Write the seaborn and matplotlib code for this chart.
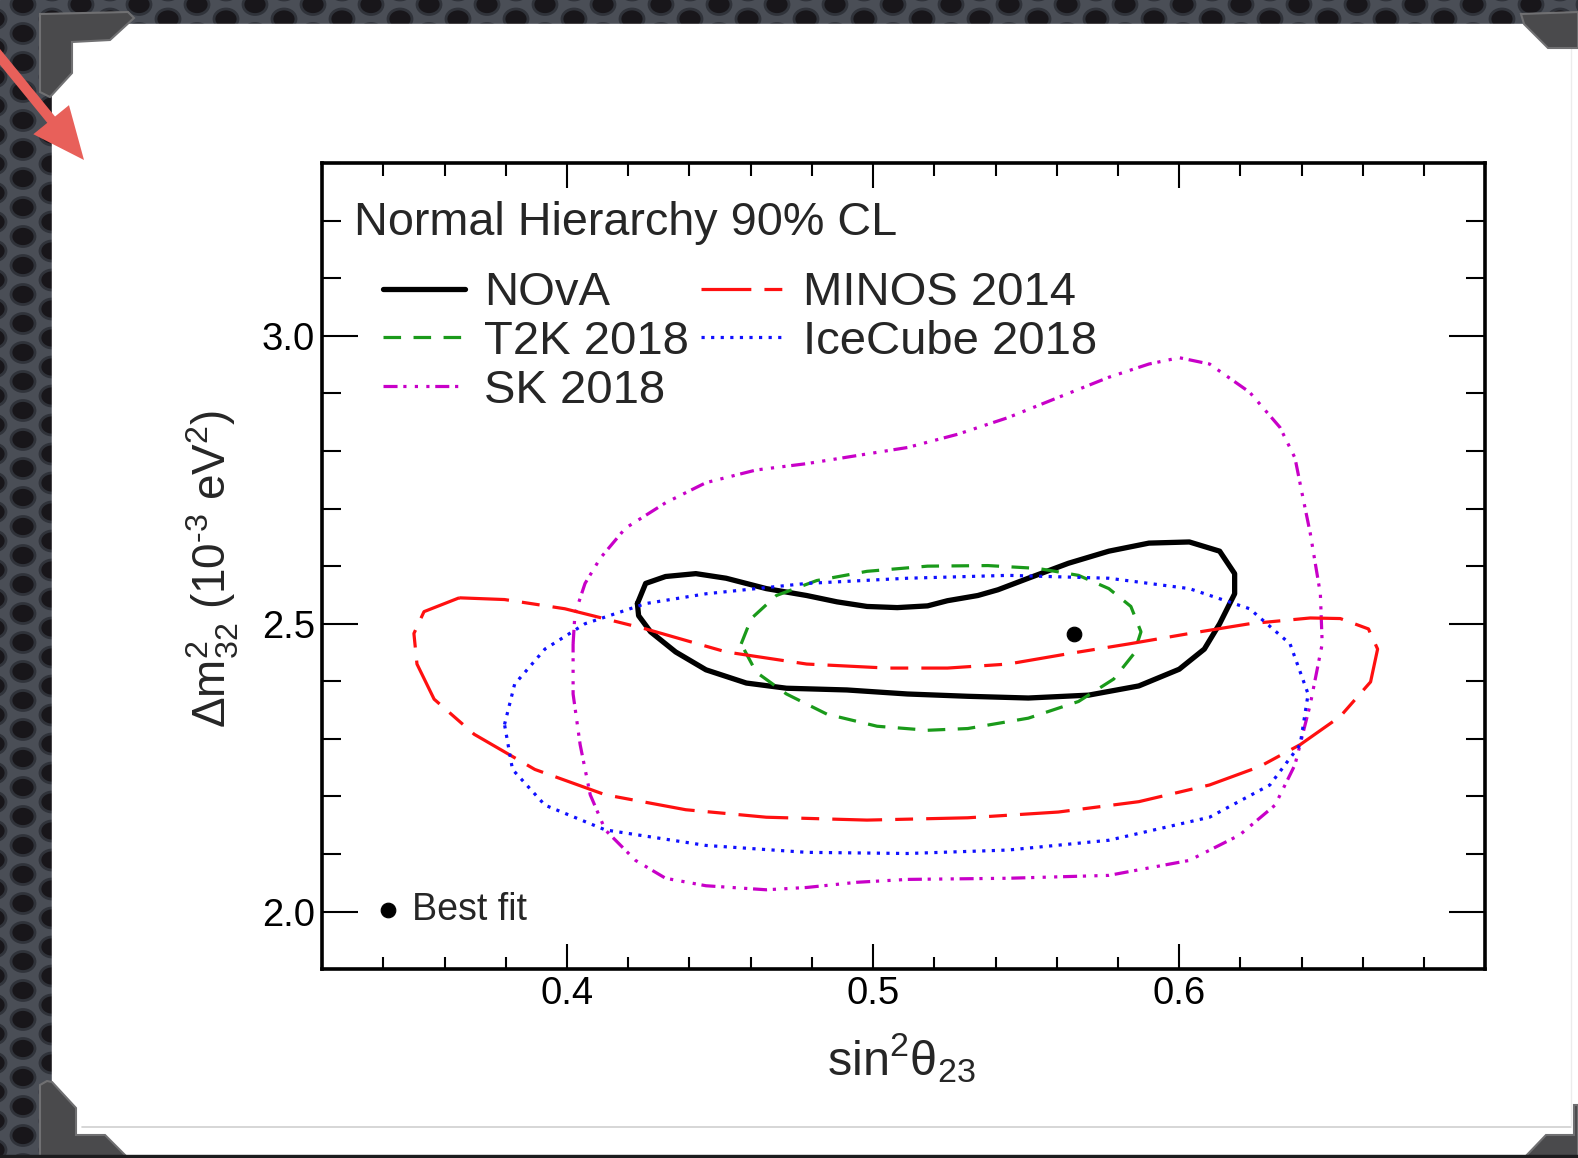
import numpy as np
import pandas as pd
import matplotlib
matplotlib.use("Agg")
import matplotlib.pyplot as plt
from matplotlib.patches import Ellipse, Rectangle, Polygon
from matplotlib.ticker import MultipleLocator, FixedLocator, FormatStrFormatter
import seaborn as sns

# ---------------------------------------------------------------- data
# 90% CL contours in (sin^2 theta_23, dm^2_32 [1e-3 eV^2])
nova_x = [0.4230, 0.4257, 0.4322, 0.4421, 0.4520, 0.4651, 0.4783, 0.4882, 0.4980, 0.5079,
          0.5178, 0.5243, 0.5342, 0.5408, 0.5507, 0.5638, 0.5770, 0.5901, 0.6033, 0.6132,
          0.6181, 0.6181, 0.6132, 0.6082, 0.6000, 0.5868, 0.5704, 0.5507, 0.5309, 0.5112,
          0.4914, 0.4717, 0.4586, 0.4454, 0.4355, 0.4273, 0.4234]
nova_y = [2.535, 2.570, 2.582, 2.587, 2.579, 2.561, 2.549, 2.538, 2.530, 2.528,
          2.531, 2.540, 2.549, 2.559, 2.579, 2.605, 2.626, 2.640, 2.642, 2.626,
          2.587, 2.552, 2.500, 2.456, 2.421, 2.392, 2.376, 2.371, 2.374, 2.378,
          2.385, 2.388, 2.397, 2.420, 2.451, 2.486, 2.514]

t2k_x = [0.4569, 0.4602, 0.4684, 0.4816, 0.4980, 0.5178, 0.5375, 0.5539, 0.5671, 0.5770,
         0.5842, 0.5875, 0.5852, 0.5786, 0.5671, 0.5507, 0.5309, 0.5178, 0.5013, 0.4849,
         0.4717, 0.4618]
t2k_y = [2.465, 2.509, 2.549, 2.575, 2.591, 2.600, 2.601, 2.596, 2.584, 2.561,
         2.530, 2.486, 2.448, 2.404, 2.365, 2.336, 2.318, 2.315, 2.322, 2.343,
         2.378, 2.416]

minos_x = [0.3648, 0.3796, 0.3993, 0.4257, 0.4520, 0.4783, 0.5046, 0.5243, 0.5441, 0.5638,
           0.5836, 0.6033, 0.6230, 0.6428, 0.6526, 0.6618, 0.6648, 0.6625, 0.6526, 0.6395,
           0.6263, 0.6099, 0.5868, 0.5605, 0.5309, 0.4980, 0.4651, 0.4388, 0.4125, 0.3895,
           0.3697, 0.3566, 0.3510, 0.3500, 0.3533]
minos_y = [2.545, 2.542, 2.526, 2.491, 2.451, 2.430, 2.423, 2.423, 2.430, 2.448,
           2.465, 2.483, 2.500, 2.510, 2.509, 2.491, 2.456, 2.399, 2.339, 2.290,
           2.252, 2.220, 2.191, 2.173, 2.163, 2.159, 2.164, 2.177, 2.203, 2.247,
           2.308, 2.369, 2.430, 2.483, 2.521]

icecube_x = [0.3796, 0.3829, 0.3928, 0.4059, 0.4257, 0.4454, 0.4783, 0.5112, 0.5441, 0.5770,
             0.6033, 0.6230, 0.6362, 0.6421, 0.6395, 0.6296, 0.6099, 0.5770, 0.5441, 0.5112,
             0.4783, 0.4454, 0.4125, 0.3928, 0.3822]
icecube_y = [2.325, 2.395, 2.456, 2.500, 2.535, 2.552, 2.570, 2.579, 2.584, 2.579,
             2.561, 2.526, 2.465, 2.378, 2.290, 2.220, 2.164, 2.124, 2.107, 2.101,
             2.103, 2.115, 2.142, 2.185, 2.247]

sk_x = [0.4020, 0.4026, 0.4059, 0.4109, 0.4191, 0.4322, 0.4454, 0.4618, 0.4783, 0.4947,
        0.5112, 0.5276, 0.5441, 0.5605, 0.5770, 0.5901, 0.6000, 0.6099, 0.6230, 0.6329,
        0.6378, 0.6401, 0.6428, 0.6461, 0.6467, 0.6428, 0.6378, 0.6313, 0.6197, 0.6033,
        0.5770, 0.5441, 0.5112, 0.4947, 0.4783, 0.4651, 0.4454, 0.4322, 0.4224, 0.4125,
        0.4076, 0.4043, 0.4020]
sk_y = [2.465, 2.517, 2.570, 2.614, 2.666, 2.710, 2.745, 2.767, 2.778, 2.792,
        2.806, 2.829, 2.858, 2.893, 2.928, 2.951, 2.962, 2.951, 2.902, 2.841,
        2.788, 2.727, 2.657, 2.552, 2.465, 2.360, 2.255, 2.185, 2.133, 2.089,
        2.063, 2.058, 2.056, 2.051, 2.042, 2.038, 2.045, 2.058, 2.089, 2.142,
        2.203, 2.290, 2.378]

best_fit_x = [0.5655]
best_fit_y = [2.4825]

labels = ["NOvA", "T2K 2018", "SK 2018", "MINOS 2014", "IceCube 2018"]
x_ticks = [0.4, 0.5, 0.6]
y_ticks = [2.0, 2.5, 3.0]

# ---------------------------------------------------------------- style
sns.set_style("ticks")
plt.rcParams["font.family"] = ["Liberation Sans", "DejaVu Sans"]
plt.rcParams["mathtext.fontset"] = "custom"
plt.rcParams["mathtext.rm"] = "Liberation Sans"
plt.rcParams["mathtext.it"] = "Liberation Sans"
plt.rcParams["mathtext.bf"] = "Liberation Sans:bold"
plt.rcParams["mathtext.sf"] = "Liberation Sans"

W, H = 1578, 1158
fig = plt.figure(figsize=(W / 100, H / 100), dpi=100)

# ---------------------------------------------------------------- frame backdrop (pixel coordinates)
bg = fig.add_axes([0, 0, 1, 1], zorder=0)
bg.set_xlim(0, W)
bg.set_ylim(H, 0)
bg.axis("off")
bg.add_patch(Rectangle((0, 0), W, H, color="#4a4e56", zorder=0))
for ci, cx in enumerate(np.arange(-6, W + 30, 29.0)):
    off = 14.5 if ci % 2 else 0.0
    for cy in np.arange(-10 + off, H + 30, 29.0):
        bg.add_patch(Ellipse((cx, cy), 24, 20, facecolor="#18161a",
                             edgecolor="#30333a", lw=2.0, zorder=1))
bg.add_patch(Rectangle((52, 24), W - 52, 1131, color="white", zorder=2))
bg.plot([82, 1571], [1127, 1127], color="#cfcfcf", lw=1.2, zorder=3)
bg.plot([1571, 1571], [48, 1127], color="#ececec", lw=1.0, zorder=3)

corner_kw = dict(facecolor="#4a4a4c", edgecolor="#707072", lw=1.5, zorder=4)
bg.add_patch(Polygon([(40, 14), (128, 12), (134, 18), (110, 40), (72, 42), (72, 73),
                      (50, 97), (40, 92)], closed=True, **corner_kw))
bg.add_patch(Polygon([(40, 1085), (47, 1081), (52, 1082), (76, 1108), (76, 1135),
                      (105, 1135), (128, 1158), (40, 1158)], closed=True, **corner_kw))
bg.add_patch(Polygon([(1521, 14), (1578, 12), (1578, 48), (1548, 48), (1524, 24)],
                     closed=True, **corner_kw))
bg.add_patch(Polygon([(1524, 1158), (1546, 1135), (1574, 1135), (1574, 1105),
                      (1578, 1105), (1578, 1158)], closed=True, **corner_kw))
bg.add_patch(Rectangle((0, 1155), W, 4, color="#1c1c1e", zorder=4))
bg.arrow(-4, 52, 88, 108, width=10, head_width=46, head_length=52,
         length_includes_head=True, color="#e8605a", lw=0, zorder=5)

# ---------------------------------------------------------------- main plot
ax = fig.add_axes([0.2041, 0.1630, 0.7372, 0.6962], zorder=2)
ax.set_facecolor("white")

def closed(xs, ys):
    return pd.DataFrame({"x": list(xs) + [xs[0]], "y": list(ys) + [ys[0]]})

series = [
    (nova_x, nova_y, labels[0], dict(color="black", lw=3.8, linestyle="-")),
    (t2k_x, t2k_y, labels[1], dict(color="#1a9a1a", lw=2.3, linestyle=(0, (5.5, 3.9)))),
    (sk_x, sk_y, labels[2], dict(color="#c800c8", lw=2.3,
                                  linestyle=(0, (4.4, 1.8, 1.0, 2.6, 1.0, 2.6, 1.0, 1.8)))),
    (minos_x, minos_y, labels[3], dict(color="#ff1010", lw=2.3,
                                       linestyle=(0, (15.6, 4.1, 5.6, 4.1)))),
    (icecube_x, icecube_y, labels[4], dict(color="#1010ff", lw=2.3, linestyle=(0, (1.0, 2.0)))),
]
handles = []
for xs, ys, lab, kw in series:
    df = closed(xs, ys)
    sns.lineplot(data=df, x="x", y="y", sort=False, estimator=None, ax=ax,
                 label=lab, **kw)
    handles.append(ax.lines[-1])

sns.scatterplot(x=best_fit_x, y=best_fit_y, color="black", s=110, ax=ax,
                edgecolor="black", zorder=6, legend=False)
bf_handle = ax.collections[-1]

ax.set_xlim(0.32, 0.70)
ax.set_ylim(1.90, 3.30)
ax.xaxis.set_major_locator(FixedLocator(x_ticks))
ax.xaxis.set_minor_locator(MultipleLocator(0.02))
ax.yaxis.set_major_locator(FixedLocator(y_ticks))
ax.yaxis.set_minor_locator(MultipleLocator(0.1))
ax.xaxis.set_major_formatter(FormatStrFormatter("%.1f"))
ax.yaxis.set_major_formatter(FormatStrFormatter("%.1f"))
for s in ax.spines.values():
    s.set_linewidth(2.6)
    s.set_color("black")
ax.tick_params(which="both", direction="in", top=True, right=True, width=1.5,
               color="black", labelsize=27.5, labelcolor="black")
ax.tick_params(axis="x", which="major", length=18, pad=5)
ax.tick_params(axis="x", which="minor", length=9)
ax.tick_params(axis="y", which="major", length=26, pad=5)
ax.tick_params(axis="y", which="minor", length=13.5)

ax.set_xlabel("sin$^{2}$θ$_{23}$", fontsize=35, va="center", ha="center")
ax.xaxis.set_label_coords(0.498, -0.111)
ax.set_ylabel("Δm$^{2}_{32}$ (10$^{\u2010 3}$ eV$^{2}$)", fontsize=33, va="center", ha="center")
ax.yaxis.set_label_coords(-0.094, 0.497)

ax.text(0.0277, 0.911, "Normal Hierarchy 90% CL", transform=ax.transAxes,
        fontsize=33.7, ha="left", va="baseline")

leg = ax.legend(handles=handles, labels=labels, ncol=2, loc="upper left",
                bbox_to_anchor=(0.052, 0.866), frameon=False, fontsize=34,
                handlelength=1.75, handletextpad=0.4, columnspacing=0.26,
                labelspacing=0.1, borderpad=0, borderaxespad=0)
ax.add_artist(leg)
ax.legend(handles=[bf_handle], labels=["Best fit"], loc="center left",
          bbox_to_anchor=(0.047, 0.074), frameon=False, fontsize=27,
          handlelength=0.6, handletextpad=0.35, borderpad=0, borderaxespad=0,
          markerscale=1.0)

fig.savefig("out.png", dpi=100)
